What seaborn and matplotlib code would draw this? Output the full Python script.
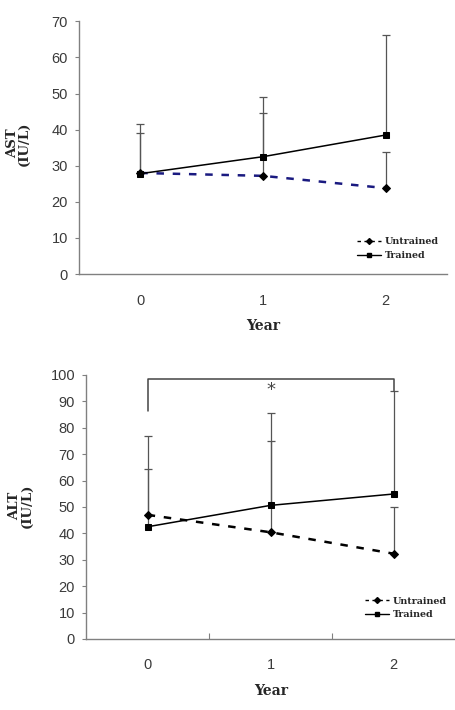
"""Recreate AST / ALT by training status over two years (two stacked panels)."""
import matplotlib

matplotlib.use("Agg")
import matplotlib.pyplot as plt
import numpy as np
import pandas as pd
import seaborn as sns
from matplotlib.lines import Line2D

sns.set_theme(style="ticks")
plt.rcParams["font.family"] = ["Liberation Sans", "DejaVu Sans"]

# ---- data ------------------------------------------------------------------
years = [0, 1, 2]
groups = ["Untrained", "Trained"]

ast_untrained = [28.0, 27.2, 23.8]
ast_trained = [27.8, 32.5, 38.5]
ast_untrained_sd = [11.0, 17.5, 10.1]
ast_trained_sd = [13.7, 16.5, 27.8]

alt_untrained = [47.0, 40.4, 32.3]
alt_trained = [42.5, 50.6, 54.9]
alt_untrained_sd = [17.3, 34.6, 17.6]
alt_trained_sd = [34.5, 35.0, 38.9]

ast_ticks = list(range(0, 71, 10))
alt_ticks = list(range(0, 101, 10))

SERIF = ["DejaVu Serif"]
TICK_COLOR = "#3a3a3a"
SPINE_COLOR = "#808080"
ERR_COLOR = "#555555"


def _frame(values_u, values_t, sd_u, sd_t):
    return pd.DataFrame({
        "year": years * 2,
        "group": [groups[0]] * 3 + [groups[1]] * 3,
        "value": list(values_u) + list(values_t),
        "sd": list(sd_u) + list(sd_t),
    })


def draw_panel(ax, df, untrained_color, ticks, ylabel, legend_y, mid_ticks=False):
    styles = {
        "Untrained": dict(color=untrained_color, marker="D", markersize=4,
                          linestyle=(0, (3, 3.5)), lw=1.8),
        "Trained": dict(color="black", marker="s", markersize=4.8,
                        linestyle="-", lw=1.1),
    }
    # upper-only SD bars first, so lines and markers sit on top
    for g in groups[::-1]:
        sub = df[df["group"] == g]
        _, caps, _ = ax.errorbar(sub["year"], sub["value"],
                                 yerr=[np.zeros(len(sub)), sub["sd"]],
                                 fmt="none", ecolor=ERR_COLOR, elinewidth=0.9,
                                 capsize=3, capthick=0.9, zorder=2)
        caps[0].set_visible(False)
    for g in groups:
        sub = df[df["group"] == g]
        st = styles[g]
        sns.lineplot(x=sub["year"], y=sub["value"], ax=ax, color=st["color"],
                     linestyle=st["linestyle"], lw=st["lw"], marker=st["marker"],
                     markersize=st["markersize"], markerfacecolor="black",
                     markeredgecolor="black", zorder=3)

    ax.set_xlim(-0.5, 2.5)
    ax.set_ylim(ticks[0], ticks[-1])
    ax.set_xticks(years)
    ax.set_yticks(ticks)
    ax.tick_params(axis="x", length=0, pad=14, labelsize=10.5, labelcolor=TICK_COLOR)
    ax.tick_params(axis="y", length=3, width=0.8, color=SPINE_COLOR,
                   labelsize=10.5, labelcolor=TICK_COLOR, pad=5)
    if mid_ticks:
        ax.set_xticks([0.5, 1.5], minor=True)
        ax.tick_params(axis="x", which="minor", direction="in", length=4,
                       color=SPINE_COLOR, width=0.8)
    sns.despine(ax=ax)
    for s in ("left", "bottom"):
        ax.spines[s].set_color(SPINE_COLOR)
        ax.spines[s].set_linewidth(1.0)

    ax.set_xlabel("Year", family=SERIF, fontweight="bold", fontsize=10,
                  labelpad=8)
    ax.set_ylabel(ylabel, family=SERIF, fontweight="bold", fontsize=9.5,
                  linespacing=0.9)

    handles = [
        Line2D([], [], color="black", linestyle=(0, (2.5, 2.5)), lw=1.0,
               marker="D", markersize=3),
        Line2D([], [], color="black", linestyle="-", lw=1.0,
               marker="s", markersize=3),
    ]
    ax.legend(handles, groups, loc="center left",
              bbox_to_anchor=(0.755, legend_y), frameon=False,
              prop={"family": SERIF, "size": 6.8, "weight": "bold"},
              handlelength=2.6, handletextpad=0.4, labelspacing=0.5,
              borderaxespad=0, borderpad=0)


fig = plt.figure(figsize=(4.56, 7.1), dpi=100)
ax_top = fig.add_axes([0.173, 0.614, 0.807, 0.356])
ax_bot = fig.add_axes([0.189, 0.100, 0.809, 0.372])

draw_panel(ax_top, _frame(ast_untrained, ast_trained, ast_untrained_sd, ast_trained_sd),
           "#1a1a80", ast_ticks, "AST\n(IU/L)", 0.10)
ax_top.yaxis.set_label_coords(-0.13, 0.516)

draw_panel(ax_bot, _frame(alt_untrained, alt_trained, alt_untrained_sd, alt_trained_sd),
           "black", alt_ticks, "ALT\n(IU/L)", 0.117, mid_ticks=True)
ax_bot.yaxis.set_label_coords(-0.143, 0.504)

# significance bracket between year 0 and year 2 (trained)
top_y = 98.3
ax_bot.plot([0, 0, 2, 2], [86.3, top_y, top_y, alt_trained[2] + alt_trained_sd[2]],
            color="#444444", lw=1.1, zorder=4, clip_on=False)
ax_bot.text(1, top_y - 0.6, "*", ha="center", va="top", fontsize=13,
            color="#444444", family=["DejaVu Sans"])

fig.savefig("out.png", dpi=100)
